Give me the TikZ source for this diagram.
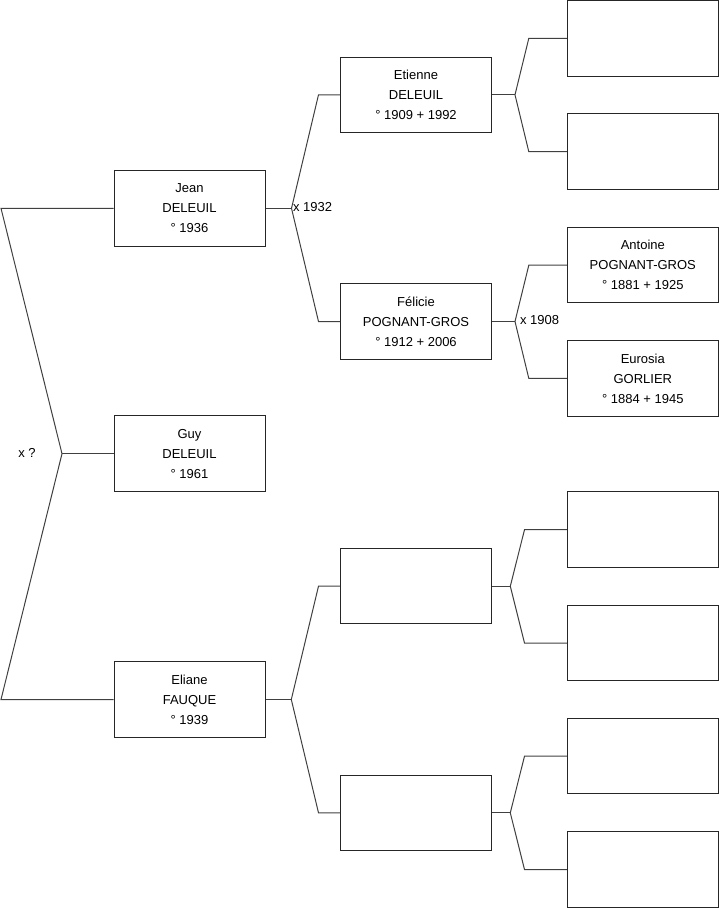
\documentclass[tikz,border=0pt]{standalone}
\usepackage{fontspec}
\setmainfont{Liberation Sans}
\begin{document}
\begin{tikzpicture}[x=1pt,y=-1pt,line width=1pt,
  person/.style={draw=black!85, minimum width=151pt, minimum height=75.5pt, inner sep=0pt, align=center, font=\fontsize{13}{20}\selectfont},
  link/.style={draw=black!75},
  lbl/.style={font=\fontsize{13}{15}\selectfont, inner sep=0pt}]
\useasboundingbox (0,0) rectangle (719,908);
% generation 1
\node[person] (jean)    at (189.5,208.3) {Jean\\DELEUIL\\° 1936};
\node[person] (guy)     at (189.5,453.7) {Guy\\DELEUIL\\° 1961};
\node[person] (eliane)  at (189.5,699.5) {Eliane\\FAUQUE\\° 1939};
% generation 2
\node[person] (etienne) at (416,94.8)  {Etienne\\DELEUIL\\° 1909 + 1992};
\node[person] (felicie) at (416,321.5) {Félicie\\POGNANT-GROS\\° 1912 + 2006};
\node[person] (ea)      at (416,586.2) {};
\node[person] (eb)      at (416,812.8) {};
% generation 3
\node[person] (g1) at (642.8,38.3)  {};
\node[person] (g2) at (642.8,151.7) {};
\node[person] (antoine) at (642.8,265.2) {Antoine\\POGNANT-GROS\\° 1881 + 1925};
\node[person] (eurosia) at (642.8,378.4) {Eurosia\\GORLIER\\° 1884 + 1945};
\node[person] (g5) at (642.8,529.7) {};
\node[person] (g6) at (642.8,643)   {};
\node[person] (g7) at (642.8,756.2) {};
\node[person] (g8) at (642.8,869.5) {};
% root connector
\coordinate (r1) at (1,208.3);
\coordinate (r2) at (1,699.5);
\coordinate (rj) at (62,453.7);
\draw[link] (jean.west) -- (r1) -- (rj) -- (r2) -- (eliane.west);
\draw[link] (rj) -- (guy.west);
\node[lbl] (xq) at (27,453) {x ?};
% Jean
\coordinate (jj) at (291.5,208.3);
\draw[link] (jean.east) -- (jj);
\draw[link] (etienne.west) -- ++(-21.5,0) -- (jj) -- ([xshift=-21.5pt]felicie.west) -- (felicie.west);
\node[lbl,anchor=west] (x1932) at (292.5,207.3) {x 1932};
% Eliane
\coordinate (ej) at (291.3,699.5);
\draw[link] (eliane.east) -- (ej);
\draw[link] (ea.west) -- ++(-21.5,0) -- (ej) -- ([xshift=-21.5pt]eb.west) -- (eb.west);
% Etienne
\coordinate (etj) at (515,94.8);
\draw[link] (etienne.east) -- (etj);
\draw[link] (g1.west) -- ++(-38,0) -- (etj) -- ([xshift=-38pt]g2.west) -- (g2.west);
% Felicie
\coordinate (fj) at (515,321.5);
\draw[link] (felicie.east) -- (fj);
\draw[link] (antoine.west) -- ++(-38,0) -- (fj) -- ([xshift=-38pt]eurosia.west) -- (eurosia.west);
\node[lbl,anchor=west] (x1908) at (519.5,320.5) {x 1908};
% empty A
\coordinate (aj) at (510.3,586.2);
\draw[link] (ea.east) -- (aj);
\draw[link] (g5.west) -- ++(-42.3,0) -- (aj) -- ([xshift=-42.3pt]g6.west) -- (g6.west);
% empty B
\coordinate (bj) at (510.3,812.8);
\draw[link] (eb.east) -- (bj);
\draw[link] (g7.west) -- ++(-42.3,0) -- (bj) -- ([xshift=-42.3pt]g8.west) -- (g8.west);
\end{tikzpicture}
\end{document}
